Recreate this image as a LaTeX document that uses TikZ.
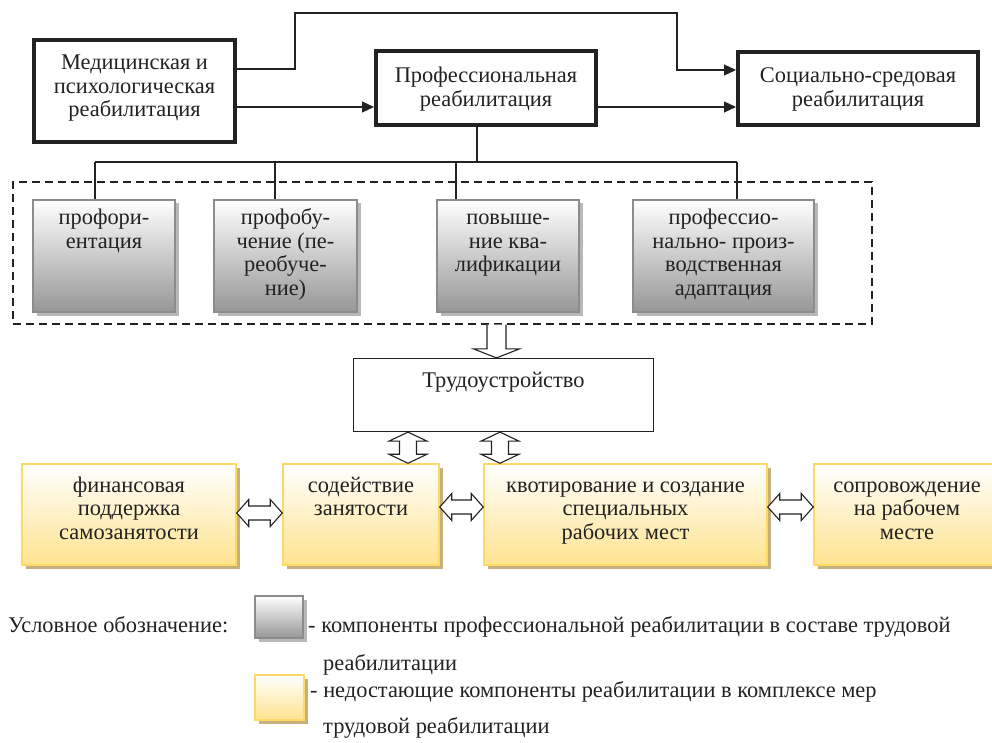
\documentclass[tikz,border=0pt]{standalone}
\usepackage{fontspec}
\setmainfont{Liberation Serif}
\newfontfamily\rmru{Liberation Serif}
\usetikzlibrary{arrows.meta,calc,shadows}
\definecolor{ybord}{HTML}{FFD966}
\definecolor{ybot}{HTML}{FFE38F}
\definecolor{yshadow}{HTML}{C5B07E}
\definecolor{gbord}{HTML}{8C8C8C}
\definecolor{gbot}{HTML}{969696}
\definecolor{gshadow}{HTML}{B8B8B8}
\definecolor{ink}{HTML}{222222}
\newcommand\bfs{\rmru\fontsize{22.4}{23.5}\selectfont}
\newcommand\hdarrow[3]{\draw[hollow] let \p1=(#1 |- #3), \p2=(#2 |- #3) in
  (\x1,\y1) -- (\x1+12pt,\y1+13.5pt) -- (\x1+12pt,\y1+7pt) -- (\x2-12pt,\y1+7pt) -- (\x2-12pt,\y1+13.5pt)
  -- (\x2,\y1) -- (\x2-12pt,\y1-13.5pt) -- (\x2-12pt,\y1-7pt) -- (\x1+12pt,\y1-7pt) -- (\x1+12pt,\y1-13.5pt) -- cycle;}
\newcommand\vdarrow[3]{\draw[hollow] let \p1=(#3 |- #1), \p2=(#3 |- #2) in
  (\x1,\y1) -- (\x1+19pt,\y1-9pt) -- (\x1+8.5pt,\y1-9pt) -- (\x1+8.5pt,\y2+9pt) -- (\x1+19pt,\y2+9pt)
  -- (\x1,\y2) -- (\x1-19pt,\y2+9pt) -- (\x1-8.5pt,\y2+9pt) -- (\x1-8.5pt,\y1-9pt) -- (\x1-19pt,\y1-9pt) -- cycle;}
\begin{document}
\begin{tikzpicture}[x=1pt,y=-1pt,
  thickbox/.style={draw=ink,line width=4pt,inner sep=0pt},
  plainbox/.style={draw=ink,line width=1.2pt,inner sep=0pt},
  gbox/.style={draw=gbord,line width=1.5pt,inner sep=0pt,top color=white,bottom color=gbot,
     drop shadow={shadow xshift=3.5pt,shadow yshift=-3.5pt,fill=gshadow,opacity=1}},
  ybox/.style={draw=ybord,line width=1.5pt,inner sep=0pt,top color=white,bottom color=ybot,
     drop shadow={shadow xshift=4pt,shadow yshift=-4pt,fill=yshadow,opacity=1}},
  dashbox/.style={draw=ink,line width=1.2pt,dash pattern=on 8pt off 5pt,inner sep=0pt},
  txt/.style={align=center,anchor=north,inner sep=0pt,font=\bfs,text=ink},
  ltxt/.style={anchor=base west,inner sep=0pt,font=\bfs,text=ink},
  line/.style={draw=ink,line width=1.2pt},
  arr/.style={line,-{Triangle[length=12pt,width=11pt]}},
  hollow/.style={draw=ink,line width=1.1pt,fill=white,line join=miter}]
\useasboundingbox (0,0) rectangle (992,743);

% top row
\node[thickbox,minimum width=201pt,minimum height=102pt] (med) at (134.5,91) {};
\node[txt] (medt) at (134.5,53) {\strut Медицинская и\\психологическая\\реабилитация};
\node[thickbox,minimum width=220pt,minimum height=74pt] (prof) at (486,88) {};
\node[txt] (proft) at (486,66) {\strut Профессиональная\\реабилитация};
\node[thickbox,minimum width=240pt,minimum height=73pt] (soc) at (858,88.5) {};
\node[txt] (soct) at (858,66) {\strut Социально-средовая\\реабилитация};

\coordinate (k1) at (295,69);
\coordinate (k2) at (295,13);
\coordinate (k3) at (677,13);
\coordinate (k4) at (677,70);
\coordinate (k5) at (0,107);
\draw[arr] (med.east |- k1) -- (k1) -- (k2) -- (k3) -- (k4) -- (soc.west |- k4);
\draw[arr] (med.east |- k5) -- (prof.west |- k5);
\draw[arr] (prof.east |- k5) -- (soc.west |- k5);

% group of components
\node[dashbox,minimum width=859pt,minimum height=142pt] (grp) at (442.5,253) {};
\node[gbox,minimum width=142pt,minimum height=112pt] (g1) at (104,256) {};
\node[gbox,minimum width=143pt,minimum height=112pt] (g2) at (285.5,256) {};
\node[gbox,minimum width=142pt,minimum height=112pt] (g3) at (508,256) {};
\node[gbox,minimum width=181pt,minimum height=112pt] (g4) at (723.5,256) {};
\node[txt] (g1t) at (104,208) {\strut профори-\\ентация};
\node[txt] (g2t) at (285.5,208) {\strut профобу-\\чение (пе-\\реобуче-\\ние)};
\node[txt] (g3t) at (508,208) {\strut повыше-\\ние ква-\\лификации};
\node[txt] (g4t) at (723.5,208) {\strut профессио-\\нально- произ-\\водственная\\адаптация};

\coordinate (bus) at (477,162);
\coordinate (b1) at (95,162);
\coordinate (b2) at (275,162);
\coordinate (b3) at (456,162);
\coordinate (b4) at (737,162);
\draw[line] (bus |- prof.south) -- (bus);
\draw[line] (b1) -- (b4);
\draw[line] (b1) -- (b1 |- g1.north);
\draw[line] (b2) -- (b2 |- g2.north);
\draw[line] (b3) -- (b3 |- g3.north);
\draw[line] (b4) -- (b4 |- g4.north);

% employment
\node[plainbox,minimum width=300pt,minimum height=73pt] (trud) at (503.5,395) {};
\node[txt] (trudt) at (503.5,370.4) {\strut Трудоустройство};
\coordinate (ax) at (496.5,0);
\draw[hollow] let \p1=(ax |- grp.south), \p2=(ax |- trud.north) in
  (\x1-9.5pt,\y1) -- (\x1-9.5pt,\y2+9pt) -- (\x1-23pt,\y2+9pt) -- (\x1,\y2)
  -- (\x1+23pt,\y2+9pt) -- (\x1+9.5pt,\y2+9pt) -- (\x1+9.5pt,\y1);

% bottom row
\node[ybox,minimum width=214pt,minimum height=101pt] (y1) at (129,514.5) {};
\node[ybox,minimum width=156pt,minimum height=101pt] (y2) at (361,514.5) {};
\node[ybox,minimum width=283pt,minimum height=101pt] (y3) at (625.5,514.5) {};
\node[ybox,minimum width=186pt,minimum height=101pt] (y4) at (907,514.5) {};
\node[txt] (y1t) at (129,475.4) {\strut финансовая\\поддержка\\самозанятости};
\node[txt] (y2t) at (361,475.4) {\strut содействие\\занятости};
\node[txt] (y3t) at (625.5,475.4) {\strut квотирование и создание\\специальных\\рабочих мест};
\node[txt] (y4t) at (907,475.4) {\strut сопровождение\\на рабочем\\месте};

\coordinate (v1) at (408,0);
\coordinate (v2) at (500,0);
\vdarrow{trud.south}{y2.north}{v1}
\vdarrow{trud.south}{y3.north}{v2}
\coordinate (h1) at (0,513);
\coordinate (h2) at (0,507);
\hdarrow{y1.east}{y2.west}{h1}
\hdarrow{y2.east}{y3.west}{h2}
\hdarrow{y3.east}{y4.west}{h2}

% legend
\node[ltxt] (leg) at (8,632) {Условное обозначение:};
\node[gbox,minimum width=48pt,minimum height=42pt] (lg) at (279,617) {};
\node[ybox,minimum width=49pt,minimum height=45pt] (ly) at (279.5,697.5) {};
\node[ltxt] (lgt1) at (308,632) {- компоненты профессиональной реабилитации в составе трудовой};
\node[ltxt] (lgt2) at (323,670) {реабилитации};
\node[ltxt] (lyt1) at (310,697) {- недостающие компоненты реабилитации в комплексе мер};
\node[ltxt] (lyt2) at (323,733) {трудовой реабилитации};
\end{tikzpicture}
\end{document}
